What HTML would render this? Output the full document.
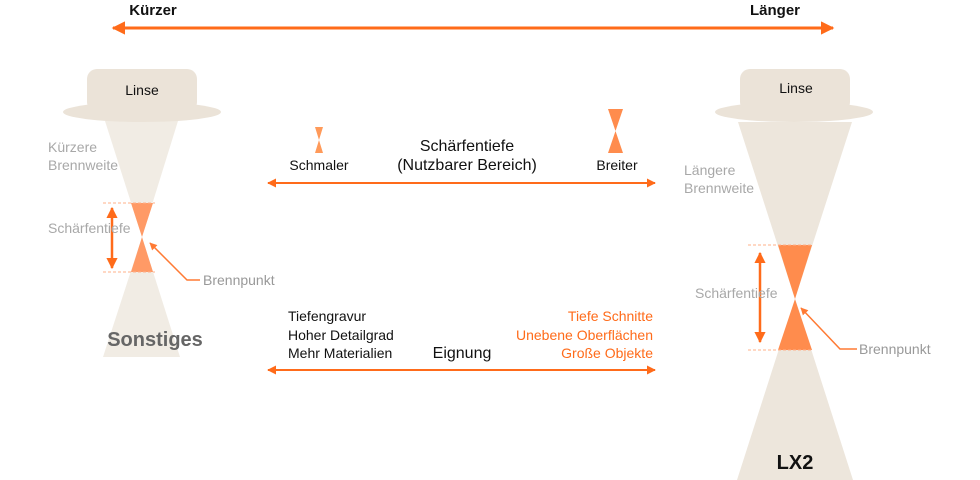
<!DOCTYPE html>
<html><head><meta charset="utf-8"><style>
body{margin:0;background:#fff;}
svg{display:block;font-family:"Liberation Sans",sans-serif;}
</style></head><body>
<svg width="980" height="480" viewBox="0 0 980 480">
<defs>
<marker id="a" viewBox="0 0 10 10" refX="9" refY="5" markerWidth="4.5" markerHeight="4.5" orient="auto-start-reverse"><path d="M0,0L10,5L0,10z" fill="#ff6b1a"/></marker>
<marker id="s" viewBox="0 0 10 10" refX="9" refY="5" markerWidth="5" markerHeight="5" orient="auto"><path d="M0,0L10,5L0,10z" fill="#ff7a33"/></marker>
</defs>
<line x1="113" y1="28" x2="833" y2="28" stroke="#ff6b1a" stroke-width="3" marker-start="url(#a)" marker-end="url(#a)"/>
<text x="153" y="15" font-size="15" font-weight="bold" text-anchor="middle" fill="#111">Kürzer</text>
<text x="775" y="15" font-size="15" font-weight="bold" text-anchor="middle" fill="#111">Länger</text>

<!-- left lens -->
<polygon points="105,121 178,121 142,237" fill="#f1ece4"/>
<polygon points="142,237 180,357 103,357" fill="#f1ece4"/>
<polygon points="131,203 153,203 142,237" fill="#ff9a66"/>
<polygon points="142,237 131,272 153,272" fill="#ff9a66"/>
<ellipse cx="142" cy="112" rx="79" ry="10" fill="#ebe3d8"/>
<rect x="87" y="69" width="110" height="43" rx="10" fill="#ebe3d8"/>
<text x="142" y="95" font-size="14" text-anchor="middle" fill="#111">Linse</text>
<line x1="103" y1="203" x2="155" y2="203" stroke="#ffb08a" stroke-dasharray="3,2"/>
<line x1="103" y1="272" x2="155" y2="272" stroke="#ffb08a" stroke-dasharray="3,2"/>
<line x1="112" y1="208" x2="112" y2="268" stroke="#ff6b1a" stroke-width="2.5" marker-start="url(#a)" marker-end="url(#a)"/>
<text x="48" y="152" font-size="14" fill="#a8a8a8">Kürzere</text>
<text x="48" y="170" font-size="14" fill="#a8a8a8">Brennweite</text>
<text x="48" y="233" font-size="14" fill="#a8a8a8">Schärfentiefe</text>
<polyline points="200,280 187,280 150,243" fill="none" stroke="#ff7a33" stroke-width="1.5" marker-end="url(#s)"/>
<text x="203" y="285" font-size="14" fill="#999">Brennpunkt</text>
<text x="155" y="346" font-size="20" font-weight="bold" text-anchor="middle" fill="#666">Sonstiges</text>

<!-- right lens -->
<polygon points="738,122 852,122 795,299" fill="#ede6dc"/>
<polygon points="795,299 853,480 737,480" fill="#ede6dc"/>
<polygon points="778,245 812,245 795,299" fill="#ff8c4d"/>
<polygon points="795,299 778,350 812,350" fill="#ff8c4d"/>
<ellipse cx="794" cy="112" rx="79" ry="10" fill="#ebe3d8"/>
<rect x="740" y="69" width="110" height="43" rx="10" fill="#ebe3d8"/>
<text x="796" y="93" font-size="14" text-anchor="middle" fill="#111">Linse</text>
<line x1="748" y1="245" x2="813" y2="245" stroke="#ffb08a" stroke-dasharray="3,2"/>
<line x1="748" y1="350" x2="813" y2="350" stroke="#ffb08a" stroke-dasharray="3,2"/>
<line x1="760" y1="253" x2="760" y2="342" stroke="#ff6b1a" stroke-width="2.5" marker-start="url(#a)" marker-end="url(#a)"/>
<text x="684" y="175" font-size="14" fill="#a8a8a8">Längere</text>
<text x="684" y="193" font-size="14" fill="#a8a8a8">Brennweite</text>
<text x="695" y="298" font-size="14" fill="#a8a8a8">Schärfentiefe</text>
<polyline points="857,349 840,349 801,308" fill="none" stroke="#ff7a33" stroke-width="1.5" marker-end="url(#s)"/>
<text x="859" y="354" font-size="14" fill="#999">Brennpunkt</text>
<text x="795" y="469" font-size="20" font-weight="bold" text-anchor="middle" fill="#111">LX2</text>

<!-- middle -->
<polygon points="315,127 323,127 319,140 323,153 315,153 319,140" fill="#ff9a5a"/>
<polygon points="608,109 623,109 615.5,131 623,153 608,153 615.5,131" fill="#ff8c4d"/>
<text x="319" y="170" font-size="14" text-anchor="middle" fill="#111">Schmaler</text>
<text x="617" y="170" font-size="14" text-anchor="middle" fill="#111">Breiter</text>
<text x="467" y="151" font-size="16" text-anchor="middle" fill="#111">Schärfentiefe</text>
<text x="467" y="170" font-size="16" text-anchor="middle" fill="#111">(Nutzbarer Bereich)</text>
<line x1="268" y1="183" x2="655" y2="183" stroke="#ff6b1a" stroke-width="2" marker-start="url(#a)" marker-end="url(#a)"/>

<text x="288" y="321" font-size="14" fill="#111">Tiefengravur</text>
<text x="288" y="340" font-size="14" fill="#111">Hoher Detailgrad</text>
<text x="288" y="358" font-size="14" fill="#111">Mehr Materialien</text>
<text x="462" y="358" font-size="16" text-anchor="middle" fill="#111">Eignung</text>
<text x="653" y="321" font-size="14" text-anchor="end" fill="#ff6b1a">Tiefe Schnitte</text>
<text x="653" y="340" font-size="14" text-anchor="end" fill="#ff6b1a">Unebene Oberflächen</text>
<text x="653" y="358" font-size="14" text-anchor="end" fill="#ff6b1a">Große Objekte</text>
<line x1="268" y1="370" x2="655" y2="370" stroke="#ff6b1a" stroke-width="2" marker-start="url(#a)" marker-end="url(#a)"/>
</svg>
</body></html>
